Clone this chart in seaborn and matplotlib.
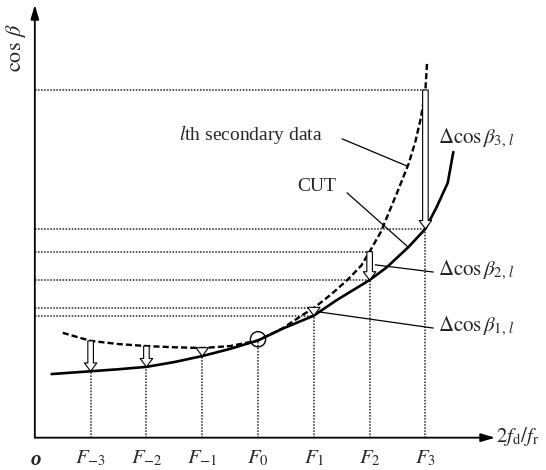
import numpy as np
import pandas as pd
import matplotlib
matplotlib.use("Agg")
import matplotlib.pyplot as plt
import seaborn as sns

# sample positions F_-3 .. F_3 and their labels
F_idx = [-3, -2, -1, 0, 1, 2, 3]
F_labels = [r'$F_{-3}$', r'$F_{-2}$', r'$F_{-1}$', r'$F_{0}$', r'$F_{1}$', r'$F_{2}$', r'$F_{3}$']

# values at the sample positions
sec_at_F = [0.242, 0.229, 0.224, 0.243, 0.324, 0.465, 0.869]
cut_at_F = [0.166, 0.177, 0.204, 0.243, 0.305, 0.394, 0.522]

# CUT curve (solid)
cut_x = [-3.7, -3.0, -2.5, -2.0, -1.5, -1.0, -0.5, 0.0, 0.45, 1.0, 1.4, 2.0, 2.3, 2.7, 3.0, 3.2, 3.4, 3.5]
cut_y = [0.159, 0.166, 0.171, 0.177, 0.189, 0.204, 0.222, 0.243, 0.273, 0.305, 0.343, 0.394, 0.425, 0.477, 0.522, 0.576, 0.637, 0.714]

# l-th secondary data curve (dashed)
sec_x = [-3.5, -3.0, -2.5, -2.0, -1.5, -1.0, -0.5, 0.0, 0.45, 0.8, 1.0, 1.3, 1.6, 1.85, 2.0, 2.2, 2.5, 2.7, 2.82, 2.92, 3.0, 3.03]
sec_y = [0.262, 0.242, 0.234, 0.229, 0.226, 0.224, 0.229, 0.243, 0.274, 0.307, 0.324, 0.357, 0.394, 0.430, 0.465, 0.514, 0.615, 0.685, 0.740, 0.800, 0.869, 0.939]

arrow_F = [-3, -2, -1, 1, 2, 3]
ref_lines_F = [1, 2, 3]

sns.set_style('white')
plt.rcParams['font.family'] = ['Liberation Serif', 'DejaVu Serif']
plt.rcParams['mathtext.fontset'] = 'stix'

fig = plt.figure(figsize=(5.46, 4.70), dpi=100)
ax = fig.add_axes([0, 0, 1, 1])
ax.set_xlim(-4.624, 5.161)
ax.set_ylim(-0.0808, 1.094)
ax.axis('off')

x0 = -4.0  # origin of the drawn axes
dot = (0, (1, 1))

# dotted verticals from axis up to CUT
for k, c in zip(F_idx, cut_at_F):
    ax.plot([k, k], [0, c], color='#222222', lw=1.1, linestyle=dot, zorder=1)
# dotted horizontals for F1..F3
for k in ref_lines_F:
    i = F_idx.index(k)
    for v in (sec_at_F[i], cut_at_F[i]):
        ax.plot([x0, k], [v, v], color='#222222', lw=1.1, linestyle=dot, zorder=1)

# curves
sns.lineplot(x=cut_x, y=cut_y, ax=ax, color='black', lw=1.9, zorder=3)
sns.lineplot(x=sec_x, y=sec_y, ax=ax, color='black', lw=1.7,
             linestyle=(0, (2.6, 1.3)), zorder=3)

# hollow arrows from secondary data down to CUT
for k in arrow_F:
    i = F_idx.index(k)
    ax.annotate('', xy=(k, cut_at_F[i]), xytext=(k, sec_at_F[i]),
                arrowprops=dict(arrowstyle='simple,head_length=0.6,head_width=0.9,tail_width=0.4',
                                mutation_scale=10, fc='white', ec='black', lw=0.8,
                                shrinkA=0, shrinkB=0), zorder=4)

# circle at F0
sns.scatterplot(x=[0], y=[cut_at_F[3] + 0.003], ax=ax, s=120, marker='o',
                facecolor='none', edgecolor='black', linewidth=1.0, zorder=5)

# axes with arrow heads
ax_style = dict(arrowstyle='-|>,head_length=0.85,head_width=0.25', mutation_scale=10,
                color='black', lw=1.3, shrinkA=0, shrinkB=0)
ax.annotate('', xy=(x0, 1.082), xytext=(x0, 0), arrowprops=ax_style)
ax.annotate('', xy=(4.25, 0), xytext=(x0, 0), arrowprops=ax_style)

# leader lines
leaders = [((1.505, 0.747), (2.67, 0.679)),
           ((1.595, 0.612), (2.67, 0.479)),
           ((2.10, 0.432), (3.14, 0.414)),
           ((1.11, 0.314), (3.14, 0.274))]
for a, b in leaders:
    ax.plot([a[0], b[0]], [a[1], b[1]], color='black', lw=0.9, zorder=2)

fs = 14
ax.text(-4.33, 0.975, r'$\cos\,\beta$', rotation=90, ha='center', va='center', fontsize=16)
ax.text(-1.415, 0.759, r'$l$th secondary data', ha='left', va='center', fontsize=fs)
ax.text(0.70, 0.629, 'CUT', ha='left', va='center', fontsize=fs)
ax.text(3.23, 0.747, r'$\Delta\cos\beta_{3,\,l}$', ha='left', va='center', fontsize=15)
ax.text(3.23, 0.419, r'$\Delta\cos\beta_{2,\,l}$', ha='left', va='center', fontsize=15)
ax.text(3.23, 0.277, r'$\Delta\cos\beta_{1,\,l}$', ha='left', va='center', fontsize=15)
ax.text(4.27, 0.002, r'$2f_{\rm d}/f_{\rm r}$', ha='left', va='center', fontsize=15)
ax.text(-3.98, -0.057, 'o', ha='center', va='center', fontsize=15,
        style='italic', weight='bold')
for k, lab in zip(F_idx, F_labels):
    ax.text(k, -0.053, lab, ha='center', va='center', fontsize=15)

fig.savefig('out.png', dpi=100)
